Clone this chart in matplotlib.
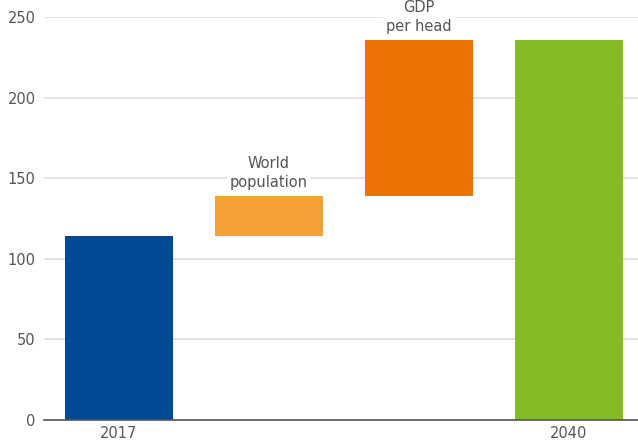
import matplotlib.pyplot as plt

# waterfall: start value, two contributions, end value
steps = ["2017", "World\npopulation", "GDP\nper head", "2040"]
start_value = 114
deltas = [25, 97]
end_value = 236
tick_labels = ["2017", "", "", "2040"]
colors = ["#004a93", "#f4a233", "#ee7203", "#86bb27"]

heights = [start_value] + deltas + [end_value]
bottoms = [0, start_value, start_value + deltas[0], 0]

fig = plt.figure(figsize=(6.38, 4.46), dpi=100)
ax = fig.add_axes([44 / 638, 26 / 446, 1 - 44 / 638, 403 / 446])

x = range(len(steps))
ax.bar(x, heights, bottom=bottoms, width=0.72, color=colors, zorder=2)

# labels above the floating bars, white box breaks the gridline
for i in (1, 2):
    ax.annotate(steps[i], (i, bottoms[i] + heights[i]), xytext=(0, 4),
                textcoords="offset points", ha="center", va="bottom",
                fontsize=10.5, color="#555555", linespacing=1.35,
                bbox=dict(facecolor="white", edgecolor="none", pad=2),
                annotation_clip=False, zorder=3)

ax.set_xlim(-0.5, 3.46)
ax.set_ylim(0, 250)
ax.set_yticks([0, 50, 100, 150, 200, 250])
ax.set_xticks(list(x))
ax.set_xticklabels(tick_labels)
ax.grid(axis="y", color="#dddddd", linewidth=1.2, zorder=0)
ax.tick_params(length=0, labelsize=10.5, labelcolor="#555555", pad=6)
ax.tick_params(axis="x", pad=4)
for side in ["top", "right", "left"]:
    ax.spines[side].set_visible(False)
ax.spines["bottom"].set_color("#555555")
ax.spines["bottom"].set_linewidth(1.2)
ax.spines["bottom"].set_zorder(4)

fig.savefig("out.png", dpi=100)
